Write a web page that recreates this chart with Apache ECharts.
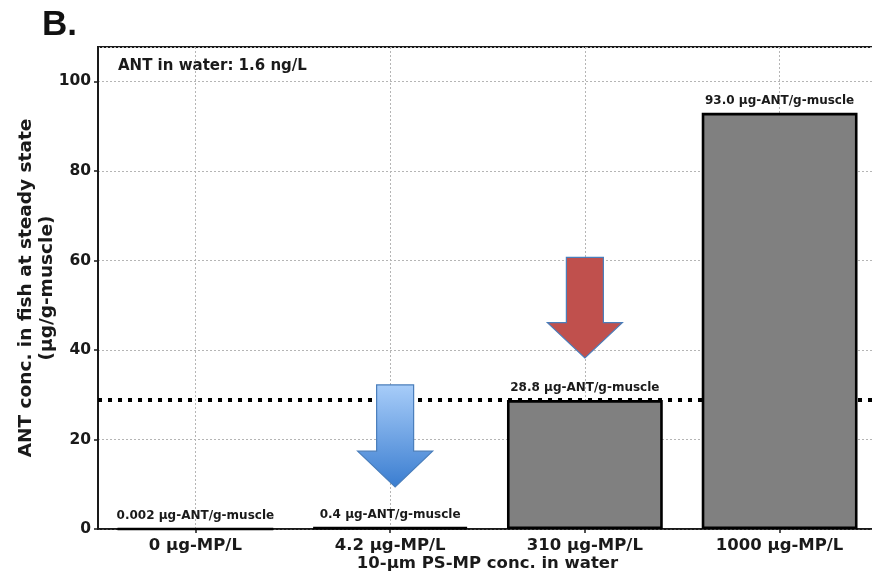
<!DOCTYPE html>
<html>
<head>
<meta charset="utf-8">
<script src="https://cdn.jsdelivr.net/npm/echarts@6/dist/echarts.min.js"></script>
<style>
  html, body { margin: 0; padding: 0; background: #fff; }
  #chart { width: 872px; height: 574px; }
</style>
</head>
<body>
<div id="chart"></div>
<script>
// MP exposure levels (x categories)
const categories = ['0 µg-MP/L', '4.2 µg-MP/L', '310 µg-MP/L', '1000 µg-MP/L'];
// ANT concentration in fish muscle at steady state, as printed above each bar
const valueTexts = ['0.002', '0.4', '28.8', '93.0'];
const values = valueTexts.map(Number);
// y-axis range and tick step
const yMin = 0;
const yMax = 107.7;
const yStep = 20;
// Down arrows: [category index, shaft top, head base, tip] in y-axis units
const blueArrow = [1, 32.2, 17.4, 9.4];
const redArrow = [2, 60.7, 46.1, 38.2];
// Reference level drawn as a dotted line (the 310 µg-MP/L result)
const refLevel = values[2];

const FONT = '"DejaVu Sans", Verdana, sans-serif';
const TXT = '#1a1a1a';

const chart = echarts.init(document.getElementById('chart'), null, { renderer: 'canvas' });

function arrowRenderer(fill, dx) {
  return function (params, api) {
    const top = api.coord([api.value(0), api.value(1)]);
    const head = api.coord([api.value(0), api.value(2)]);
    const tip = api.coord([api.value(0), api.value(3)]);
    const cx = top[0] + dx;
    const sw = 18.5, hw = 37.5;
    return {
      type: 'polygon',
      shape: {
        points: [
          [cx - sw, top[1]], [cx + sw, top[1]], [cx + sw, head[1]],
          [cx + hw, head[1]], [cx, tip[1]], [cx - hw, head[1]], [cx - sw, head[1]]
        ]
      },
      style: { fill: fill, stroke: '#4a7ebb', lineWidth: 1.2 }
    };
  };
}

const option = {
  animation: false,
  grid: {
    left: 98, top: 47, width: 779, bottom: 45,
    outerBoundsMode: 'none',
    containLabel: false,
    show: true, borderColor: '#1a1a1a', borderWidth: 2, backgroundColor: 'transparent'
  },
  graphic: [
    { type: 'text', left: 42, top: 8,
      style: { text: 'B.', font: 'bold 35px "Liberation Sans", Arial, sans-serif', fill: '#111' } },
    { type: 'text', left: 118, top: 59,
      style: { text: 'ANT in water: 1.6 ng/L', font: 'bold 15px ' + FONT, fill: TXT } }
  ],
  xAxis: {
    type: 'category',
    data: categories,
    axisLine: { lineStyle: { color: '#1a1a1a', width: 1.6 } },
    axisTick: { show: true, alignWithLabel: true, inside: false, length: 4, lineStyle: { color: '#1a1a1a', width: 1.5 } },
    axisLabel: { margin: 8, fontFamily: FONT, fontWeight: 'bold', fontSize: 16.5, color: TXT },
    splitLine: { show: false },
    name: '10-µm PS-MP conc. in water',
    nameLocation: 'middle',
    nameGap: 26,
    nameMoveOverlap: false,
    nameTextStyle: { fontFamily: FONT, fontWeight: 'bold', fontSize: 16.5, color: TXT }
  },
  yAxis: {
    type: 'value',
    min: yMin, max: yMax, interval: yStep,
    axisLine: { show: true, lineStyle: { color: '#1a1a1a', width: 2 } },
    axisTick: { show: true, length: 4, lineStyle: { color: '#1a1a1a', width: 1.5 } },
    axisLabel: { margin: 7, fontFamily: FONT, fontWeight: 'bold', fontSize: 15.5, color: TXT, showMaxLabel: false },
    splitLine: { show: true, lineStyle: { color: '#b5b5b5', width: 1, type: [2, 2] } },
    name: 'ANT conc. in fish at steady state\n(µg/g-muscle)',
    nameLocation: 'middle',
    nameGap: 40,
    nameMoveOverlap: false,
    nameTextStyle: { fontFamily: FONT, fontWeight: 'bold', fontSize: 18.5, color: TXT, lineHeight: 21 }
  },
  series: [
    {
      type: 'bar',
      data: values,
      barWidth: '80%',
      z: 2,
      itemStyle: { color: '#808080', borderColor: '#000', borderWidth: 2.6 },
      label: {
        show: true, position: 'top', distance: 6,
        fontFamily: FONT, fontWeight: 'bold', fontSize: 12, color: TXT,
        formatter: p => valueTexts[p.dataIndex] + ' µg-ANT/g-muscle'
      },
      markLine: {
        z: 1, silent: true, symbol: 'none', label: { show: false },
        data: [
          ...categories.map(c => ({ xAxis: c, lineStyle: { color: '#b5b5b5', width: 1, type: [2, 2] } })),
          { yAxis: refLevel, lineStyle: { color: '#000', width: 4, type: [4, 6] } }
        ]
      }
    },
    {
      type: 'custom',
      z: 4,
      renderItem: arrowRenderer(new echarts.graphic.LinearGradient(0, 0, 0, 1, [
        { offset: 0, color: '#a8cdf9' }, { offset: 1, color: '#3a7dd0' }
      ]), 5),
      encode: { x: 0, y: [1, 2, 3] },
      data: [blueArrow]
    },
    {
      type: 'custom',
      z: 4,
      renderItem: arrowRenderer('#c0504d', 0),
      encode: { x: 0, y: [1, 2, 3] },
      data: [redArrow]
    }
  ]
};

chart.setOption(option);
</script>
</body>
</html>
